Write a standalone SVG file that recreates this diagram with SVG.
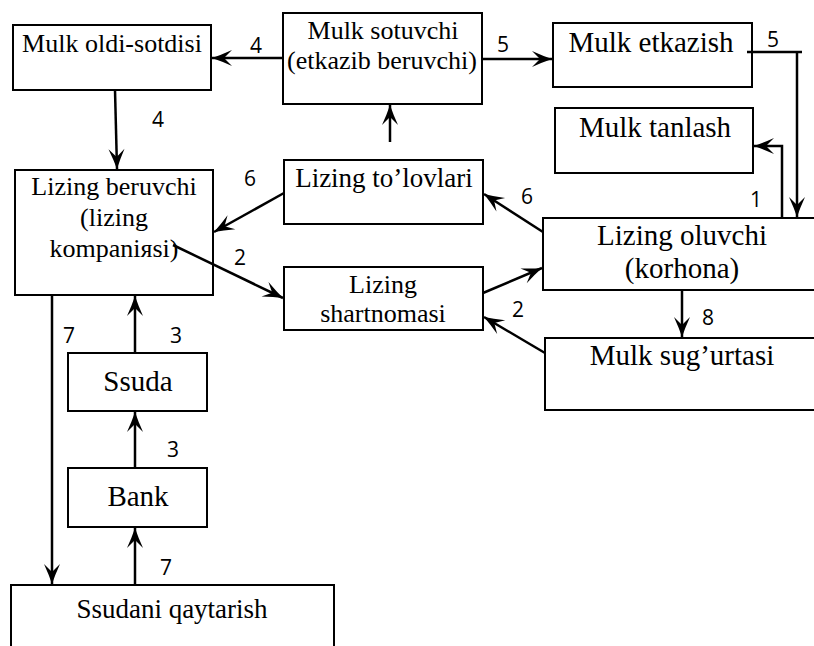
<svg xmlns="http://www.w3.org/2000/svg" width="814" height="646" viewBox="0 0 814 646">
  <style>
    .box { fill: #ffffff; stroke: #000000; stroke-width: 2; }
    .t { font-family: 'Liberation Serif', 'DejaVu Serif', serif; fill: #000000; text-anchor: middle; }
    .n { font-family: 'Open Sans', 'Noto Sans', 'Liberation Sans', sans-serif; font-size: 21px; fill: #000000; text-anchor: middle; }
    .c { fill: none; stroke: #000000; stroke-width: 2.5; }
    .ca { fill: none; stroke: #000000; stroke-width: 2.5; marker-end: url(#arrow); }
  </style>
  <defs>
    <!-- barbed arrowhead, tip at the line end -->
    <marker id="arrow" markerUnits="userSpaceOnUse" markerWidth="24" markerHeight="20" refX="0" refY="0" viewBox="-22 -10 24 20" orient="auto" overflow="visible">
      <path d="M0,0 Q-9,-3 -20,-8 L-12,0 L-20,8 Q-9,3 0,0 Z" fill="#000000"/>
    </marker>
  </defs>

  <rect x="0" y="0" width="814" height="646" fill="#ffffff"/>

  <!-- nodes -->
  <g id="mulk-oldi-sotdisi">
    <rect class="box" x="13" y="25" width="198" height="65"/>
    <text class="t" x="112" y="52" font-size="26">Mulk oldi-sotdisi</text>
  </g>
  <g id="mulk-sotuvchi">
    <rect class="box" x="283" y="13" width="199" height="91"/>
    <text class="t" x="383" y="39" font-size="26">Mulk sotuvchi</text>
    <text class="t" x="382" y="69" font-size="26">(etkazib beruvchi)</text>
  </g>
  <g id="mulk-etkazish">
    <rect class="box" x="553" y="23" width="199" height="64"/>
    <text class="t" x="651" y="52" font-size="29">Mulk etkazish</text>
  </g>
  <g id="mulk-tanlash">
    <rect class="box" x="555" y="108" width="198" height="65"/>
    <text class="t" x="655" y="137" font-size="29">Mulk tanlash</text>
  </g>
  <g id="lizing-tolovlari">
    <rect class="box" x="284" y="160" width="199" height="64"/>
    <text class="t" x="384" y="187" font-size="27">Lizing to’lovlari</text>
  </g>
  <g id="lizing-shartnomasi">
    <rect class="box" x="284" y="267" width="199" height="63"/>
    <text class="t" x="383" y="293" font-size="26">Lizing</text>
    <text class="t" x="383" y="322" font-size="26">shartnomasi</text>
  </g>
  <g id="lizing-beruvchi">
    <rect class="box" x="15" y="170" width="198" height="125"/>
    <text class="t" x="114" y="195" font-size="26">Lizing beruvchi</text>
    <text class="t" x="114" y="226" font-size="26">(lizing</text>
    <text class="t" x="114" y="257" font-size="26">kompaniяsi)</text>
  </g>
  <g id="lizing-oluvchi">
    <rect class="box" x="543" y="218" width="290" height="72"/>
    <text class="t" x="682" y="245" font-size="29">Lizing oluvchi</text>
    <text class="t" x="682" y="278" font-size="29">(korhona)</text>
  </g>
  <g id="mulk-sugurtasi">
    <rect class="box" x="545" y="338" width="290" height="72"/>
    <text class="t" x="682" y="365" font-size="29">Mulk sug’urtasi</text>
  </g>
  <g id="ssuda">
    <rect class="box" x="68" y="353" width="139" height="58"/>
    <text class="t" x="138" y="391" font-size="29">Ssuda</text>
  </g>
  <g id="bank">
    <rect class="box" x="68" y="468" width="139" height="59"/>
    <text class="t" x="138" y="506" font-size="29">Bank</text>
  </g>
  <g id="ssudani-qaytarish">
    <rect class="box" x="11" y="585" width="323" height="80"/>
    <text class="t" x="172" y="618" font-size="27">Ssudani qaytarish</text>
  </g>

  <!-- connectors -->
  <g id="connectors">
    <line class="ca" x1="283" y1="58" x2="212" y2="58"/>
    <line class="ca" x1="482" y1="59" x2="552" y2="59"/>
    <line class="ca" x1="115" y1="90" x2="117" y2="169"/>
    <line class="ca" x1="390" y1="142" x2="390" y2="105"/>
    <line class="c" x1="747" y1="52" x2="802" y2="52"/>
    <line class="ca" x1="797" y1="52" x2="797" y2="217"/>
    <polyline class="ca" points="782,218 782,146 754,146"/>
    <line class="ca" x1="543" y1="232" x2="484" y2="194"/>
    <line class="ca" x1="284" y1="193" x2="214" y2="232"/>
    <line class="ca" x1="173" y1="245" x2="283" y2="298"/>
    <line class="ca" x1="483" y1="293" x2="542" y2="268"/>
    <line class="ca" x1="545" y1="353" x2="484" y2="317"/>
    <line class="ca" x1="682" y1="290" x2="682" y2="337"/>
    <line class="ca" x1="52" y1="295" x2="52" y2="584"/>
    <line class="ca" x1="135" y1="353" x2="135" y2="296"/>
    <line class="ca" x1="135" y1="468" x2="135" y2="412"/>
    <line class="ca" x1="135" y1="585" x2="135" y2="528"/>
  </g>

  <!-- step numbers -->
  <g id="labels">
    <text class="n" x="256" y="53">4</text>
    <text class="n" x="158" y="127">4</text>
    <text class="n" x="503" y="52">5</text>
    <text class="n" x="773" y="47">5</text>
    <text class="n" x="756" y="207">1</text>
    <text class="n" x="527" y="204">6</text>
    <text class="n" x="250" y="186">6</text>
    <text class="n" x="240" y="265">2</text>
    <text class="n" x="518" y="317">2</text>
    <text class="n" x="708" y="325">8</text>
    <text class="n" x="69" y="343">7</text>
    <text class="n" x="176" y="343">3</text>
    <text class="n" x="173" y="457">3</text>
    <text class="n" x="166" y="575">7</text>
  </g>
</svg>
